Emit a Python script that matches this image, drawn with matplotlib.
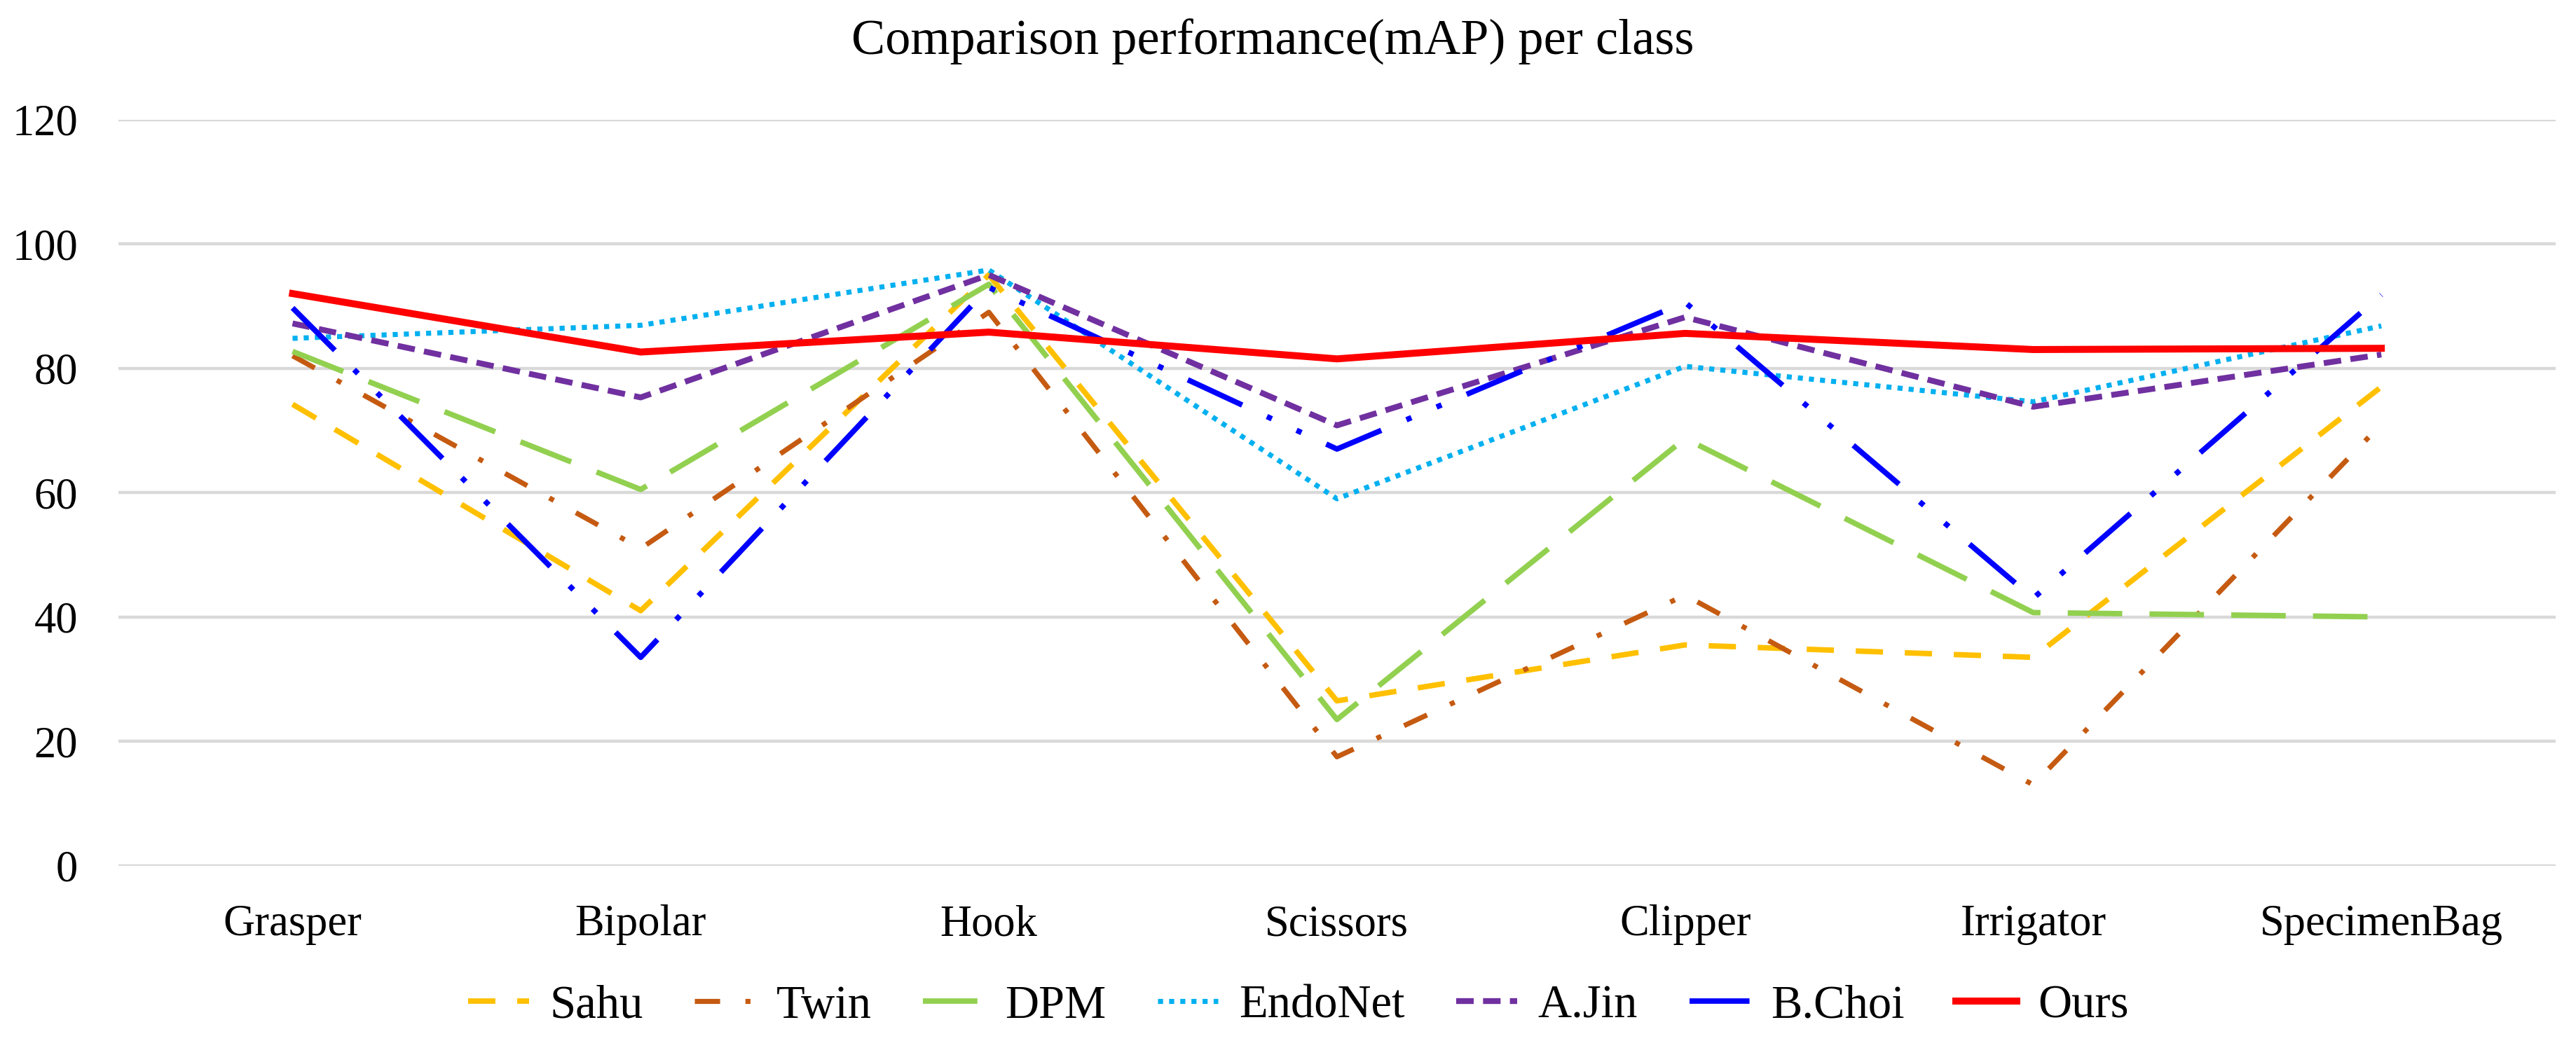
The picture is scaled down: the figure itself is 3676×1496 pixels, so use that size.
import matplotlib.pyplot as plt

# classes on the x axis
classes = ['Grasper', 'Bipolar', 'Hook', 'Scissors', 'Clipper', 'Irrigator', 'SpecimenBag']

# mAP per class
sahu = [74.2, 41.0, 95.0, 26.5, 35.5, 33.5, 77.0]
twin = [82.0, 51.0, 89.0, 17.5, 43.5, 13.0, 71.0]
dpm = [82.7, 60.5, 93.5, 23.5, 68.7, 40.7, 40.0]
endonet = [84.8, 86.9, 95.8, 59.0, 80.3, 74.6, 86.8]
ajin = [87.2, 75.3, 95.0, 70.8, 88.2, 73.8, 82.2]
bchoi = [89.7, 33.5, 93.0, 67.0, 90.6, 43.0, 91.8]
ours = [92.0, 82.6, 85.8, 81.5, 85.6, 83.0, 83.2]

labels = ['Sahu', 'Twin', 'DPM', 'EndoNet', 'A.Jin', 'B.Choi', 'Ours']
series = [sahu, twin, dpm, endonet, ajin, bchoi, ours]

plt.rcParams['font.family'] = ['Liberation Serif', 'DejaVu Serif']

colors = ['#FFC000', '#C55A11', '#92D050', '#00B0F0', '#7030A0', '#0000FF', '#FF0000']
dashes = [(5, 4), (5, 5, 1, 5), (10, 5), (1, 1.2), (3, 1.6), (11, 5, 1, 5, 1, 5), None]
widths = [2.8, 2.6, 2.8, 2.6, 3.0, 2.8, 3.6]

fig = plt.figure(figsize=(18.38, 7.48), dpi=200)
ax = fig.add_axes([0.046, 0.174, 0.946, 0.712])

x = range(len(classes))
for name, vals, c, d, w in zip(labels, series, colors, dashes, widths):
    line, = ax.plot(x, vals, color=c, lw=w, label=name, solid_joinstyle='round')
    if d is not None:
        line.set_dashes(d)

ax.set_xlim(-0.5, len(classes) - 0.5)
ax.set_ylim(0, 120)
ax.set_yticks(range(0, 121, 20))
ax.set_xticks(list(x))
ax.set_xticklabels(classes)
ax.grid(axis='y', color='#d9d9d9', lw=1.6)
ax.set_axisbelow(True)
for s in ax.spines.values():
    s.set_visible(False)
ax.tick_params(axis='both', length=0, labelsize=22.5, colors='#000000')
ax.tick_params(axis='x', pad=20)
ax.tick_params(axis='y', pad=21)

fig.text(0.494, 0.96, 'Comparison performance(mAP) per class', ha='center', va='center', fontsize=26)
fig.legend(loc='center', bbox_to_anchor=(0.504, 0.04), ncol=7, frameon=False,
           fontsize=24, handlelength=1.3, handletextpad=0.45, columnspacing=1.1)

fig.savefig('out.png', dpi=200)
